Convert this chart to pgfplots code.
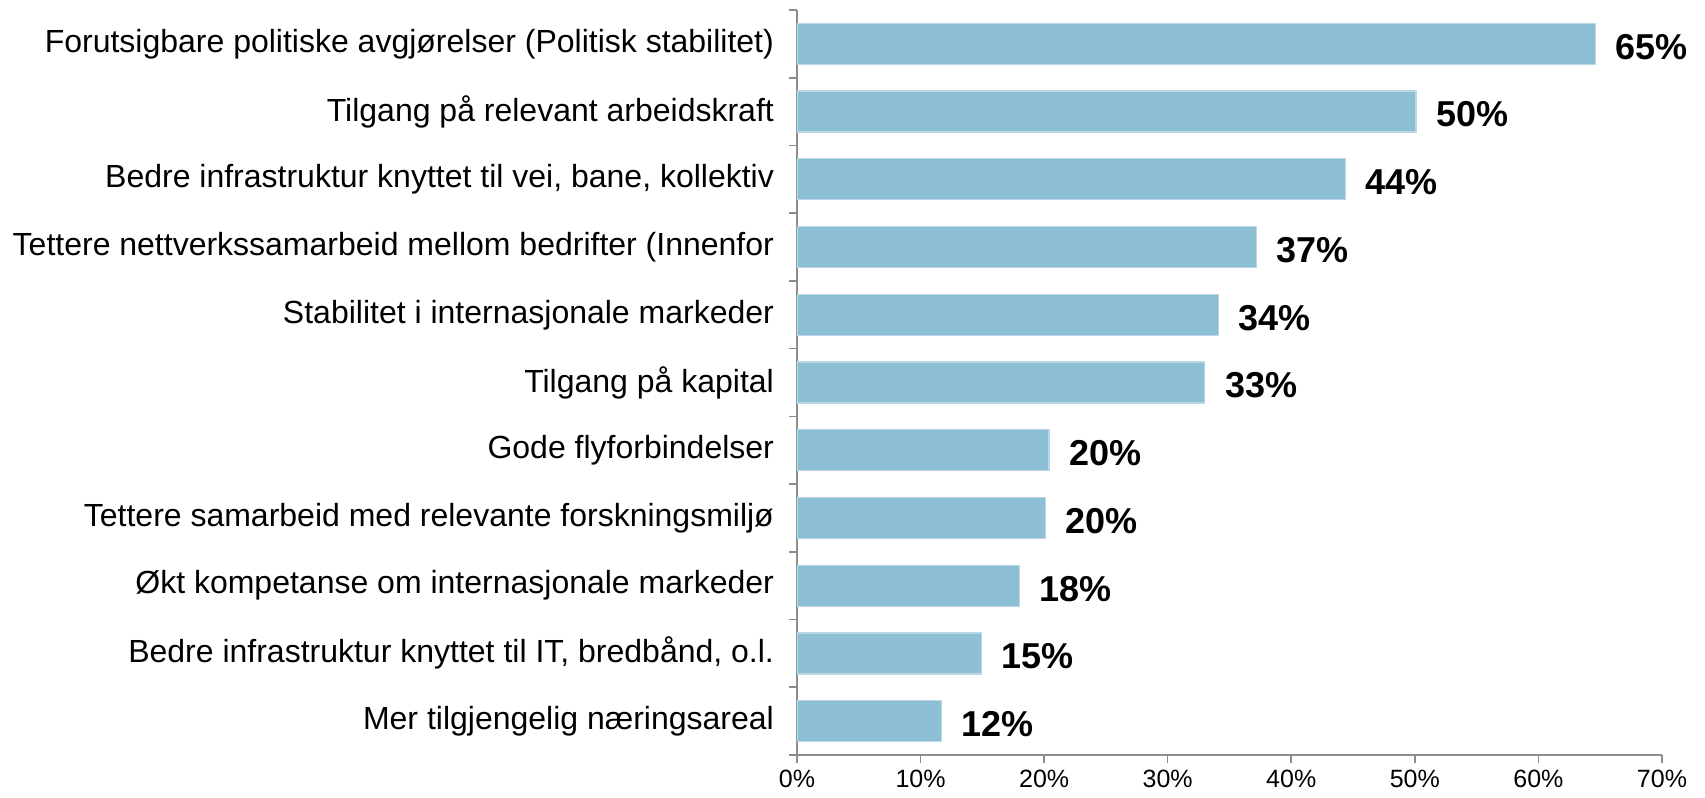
\documentclass[border=0pt]{standalone}
\usepackage{fontspec}
\setmainfont{Liberation Sans}
\usepackage{pgfplots}
\pgfplotsset{compat=1.18}
\usepackage{pgfplotstable}
\definecolor{barfill}{RGB}{141,191,212}
\definecolor{baredge}{RGB}{185,215,228}
\definecolor{axgray}{RGB}{140,140,140}
\pgfplotstableread{
y x lab
10 64.6 65
9 50.1 50
8 44.4 44
7 37.2 37
6 34.1 34
5 33.0 33
4 20.4 20
3 20.1 20
2 18.0 18
1 14.9 15
0 11.7 12
}\datatable
\begin{document}
\begin{tikzpicture}
\path[use as bounding box] (-398.5pt,-21.5pt) rectangle (454pt,377.5pt);
\begin{axis}[
  width=432.5pt, height=372.5pt, scale only axis,
  xmin=0, xmax=70, ymin=-0.5, ymax=10.5,
  xbar, bar width=20.5pt,
  axis lines*=left,
  axis line style={draw=axgray, line width=0.8pt},
  tick align=outside, major tick length=4pt,
  tick style={draw=axgray, line width=0.8pt},
  xtick={0,10,...,70},
  xticklabels={0\%,10\%,20\%,30\%,40\%,50\%,60\%,70\%},
  xticklabel style={font=\fontsize{12.5}{14}\selectfont},
  ytick={-0.5,0.5,...,10.5},
  yticklabels={},
  extra y ticks={0,1,...,10},
  extra y tick labels={
    {Mer tilgjengelig næringsareal},
    {Bedre infrastruktur knyttet til IT, bredbånd, o.l.},
    {Økt kompetanse om internasjonale markeder},
    {Tettere samarbeid med relevante forskningsmiljø},
    {Gode flyforbindelser},
    {Tilgang på kapital},
    {Stabilitet i internasjonale markeder},
    {Tettere nettverkssamarbeid mellom bedrifter (Innenfor},
    {Bedre infrastruktur knyttet til vei, bane, kollektiv},
    {Tilgang på relevant arbeidskraft},
    {Forutsigbare politiske avgjørelser (Politisk stabilitet)}},
  extra y tick style={major tick length=0pt, tick style={draw=none},
    yticklabel style={font=\fontsize{16}{18}\selectfont, xshift=-8pt}},
  nodes near coords={\pgfplotspointmeta\%},
  point meta=explicit symbolic,
  nodes near coords style={font=\bfseries\fontsize{18}{20}\selectfont, anchor=west, xshift=6.5pt, yshift=-1.5pt},
]
\addplot[fill=barfill, draw=baredge, line width=0.6pt] table[x=x, y=y, meta=lab] {\datatable};
\end{axis}
\end{tikzpicture}
\end{document}
